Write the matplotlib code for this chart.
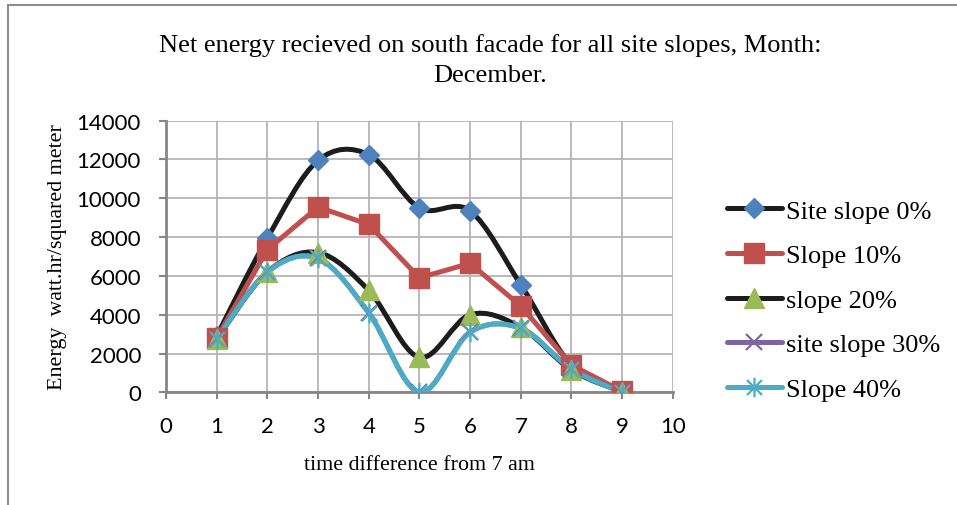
import numpy as np
import matplotlib
matplotlib.use("Agg")
import matplotlib.pyplot as plt
from matplotlib.path import Path
from matplotlib.patches import PathPatch, Rectangle
from matplotlib.lines import Line2D

# data
hours = [1, 2, 3, 4, 5, 6, 7, 8, 9]
slope_0 = [2900, 7950, 11950, 12250, 9500, 9350, 5550, 1400, 50]
slope_10 = [2800, 7350, 9550, 8650, 5900, 6650, 4450, 1400, 60]
slope_20 = [2750, 6200, 7200, 5250, 1800, 4000, 3350, 1150, 30]
slope_30 = [2750, 6200, 6900, 4100, 0, 3100, 3300, 1200, 0]
slope_40 = [2750, 6200, 6900, 4100, 0, 3100, 3300, 1200, 0]

series_names = ["Site slope 0%", "Slope 10%", "slope 20%", "site slope 30%", "Slope 40%"]

# line colour, marker face colour, marker, marker size, smoothed
styles = [
    ("#1c1c1c", "#4F81BD", "D", 10, True),
    ("#C0504D", "#C0504D", "s", 14, False),
    ("#1c1c1c", "#9BBB59", "^", 15, True),
    ("#8064A2", "#8064A2", "x", 12, True),
    ("#4BACC6", "#4BACC6", "star", 14, True),
]

# excel-like asterisk marker: an x with a vertical bar
star_marker = Path([(-1, -1), (1, 1), (-1, 1), (1, -1), (0, -1.3), (0, 1.3)],
                   [Path.MOVETO, Path.LINETO, Path.MOVETO, Path.LINETO, Path.MOVETO, Path.LINETO])


def smooth_path(x, y):
    """Cubic bezier through the points, like excel's smoothed line"""
    pts = np.column_stack([x, y]).astype(float)
    n = len(pts)
    verts = [pts[0]]
    codes = [Path.MOVETO]
    for i in range(n - 1):
        p0 = pts[max(i - 1, 0)]
        p1 = pts[i]
        p2 = pts[i + 1]
        p3 = pts[min(i + 2, n - 1)]
        c1 = p1 + (p2 - p0) / 6.0
        c2 = p2 - (p3 - p1) / 6.0
        verts += [c1, c2, p2]
        codes += [Path.CURVE4] * 3
    return Path(verts, codes)


fig = plt.figure(figsize=(9.57, 5.06), dpi=100)
ax = fig.add_axes([0.1735, 0.2227, 0.5295, 0.5368])

# grey frame round the chart
fig.patches.append(Rectangle((8 / 957, -0.05), 1.2, 1 - 6 / 506 + 0.05,
                             transform=fig.transFigure, fill=False,
                             edgecolor="#8c8c8c", linewidth=1.5))

all_series = [slope_0, slope_10, slope_20, slope_30, slope_40]
handles = []
for values, name, (lc, mc, mk, ms, smooth) in zip(all_series, series_names, styles):
    if smooth:
        ax.add_patch(PathPatch(smooth_path(hours, values), facecolor="none",
                               edgecolor=lc, linewidth=3.6, capstyle="round",
                               joinstyle="round", zorder=3))
    else:
        ax.plot(hours, values, color=lc, linewidth=3.6, solid_joinstyle="round",
                solid_capstyle="round", zorder=3)
    marker = star_marker if mk == "star" else mk
    mew = 1.6 if mk in ("x", "star") else 1
    ax.plot(hours, values, linestyle="none", marker=marker, markersize=ms,
            markerfacecolor=mc, markeredgecolor=mc, markeredgewidth=mew, zorder=4)
    handles.append(Line2D([], [], color=lc, linewidth=3.6, marker=marker,
                          markersize=ms, markerfacecolor=mc, markeredgecolor=mc,
                          markeredgewidth=mew, solid_capstyle="round"))

ax.set_xlim(0, 10)
ax.set_ylim(0, 14000)
ax.set_xticks(range(0, 11))
ax.set_yticks(range(0, 14001, 2000))
ax.grid(True, color="#b4b4b8", linewidth=1.3)
ax.set_axisbelow(True)
for side in ("top", "right"):
    ax.spines[side].set_visible(False)
for side in ("left", "bottom"):
    ax.spines[side].set_color("#868686")
    ax.spines[side].set_linewidth(2)
ax.tick_params(axis="both", direction="out", length=5, width=1.5, color="#868686",
               labelsize=16)
ax.tick_params(axis="y", pad=13)
ax.tick_params(axis="x", pad=12)
for lab in ax.get_xticklabels() + ax.get_yticklabels():
    lab.set_fontfamily("Lato")

serif = "Liberation Serif"
fig.text(0.512, 0.911, "Net energy recieved on south facade for all site slopes, Month:",
         ha="center", va="center", fontsize=19, family=serif)
fig.text(0.512, 0.85, "December.", ha="center", va="center", fontsize=19, family=serif)
ax.set_xlabel("time difference from 7 am", fontsize=15.8, family=serif, va="center")
ax.set_ylabel("Energy  watt.hr/squared meter", fontsize=15.8, family=serif, va="center")
ax.xaxis.set_label_coords(0.5, -0.264)
ax.yaxis.set_label_coords(-0.215, 0.5)

fig.legend(handles, series_names, loc="center left", bbox_to_anchor=(0.7597, 0.405),
           frameon=False, prop={"family": serif, "size": 19}, handlelength=2.08,
           handletextpad=0.15, labelspacing=0.8, borderaxespad=0, borderpad=0)

fig.savefig("out.png", dpi=100)
